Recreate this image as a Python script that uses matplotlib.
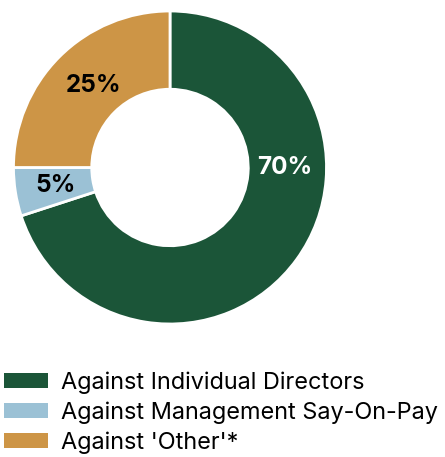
import matplotlib
matplotlib.use("Agg")
import matplotlib.pyplot as plt
from matplotlib.patches import Patch
import numpy as np

categories = ["Against Individual Directors", "Against Management Say-On-Pay", "Against 'Other'*"]
values = [70, 5, 25]
labels_pct = ["70%", "5%", "25%"]
colors = ["#1B5538", "#9BC1D5", "#CD9546"]
label_colors = ["white", "black", "black"]

plt.rcParams['font.family'] = ['Inter', 'DejaVu Sans']

fig = plt.figure(figsize=(4.45, 4.57), dpi=100)
W, H = 445, 457
cx, cy, R = 170, 167.5, 156.5
ax = fig.add_axes([(cx - R) / W, (H - cy - R) / H, 2 * R / W, 2 * R / H])

wedges, _ = ax.pie(values, colors=colors, startangle=90, counterclock=False,
                   radius=1.0, wedgeprops=dict(width=0.5, edgecolor="white", linewidth=2))
ax.set_xlim(-1, 1)
ax.set_ylim(-1, 1)
ax.set_aspect("equal")
ax.axis("off")

for i, w in enumerate(wedges):
    mid = (w.theta1 + w.theta2) / 2
    r = 0.74
    if i == 0:
        mid = 0
        r = 0.735
    elif i == 2:
        mid -= 2
        r = 0.72
    x = r * np.cos(np.deg2rad(mid))
    y = r * np.sin(np.deg2rad(mid))
    ax.text(x, y, labels_pct[i], ha="center", va="center", fontsize=17.5,
            fontweight="bold", color=label_colors[i])

handles = [Patch(facecolor=c, edgecolor="none") for c in colors]
fig.legend(handles, categories, loc="upper left", bbox_to_anchor=(4 / W, 1 - 371 / H),
           frameon=False, fontsize=16.9, handlelength=1.87, handleheight=0.6,
           handletextpad=0.55, labelspacing=0.33, borderpad=0, borderaxespad=0)

fig.savefig("out.png", dpi=100, facecolor="white")
